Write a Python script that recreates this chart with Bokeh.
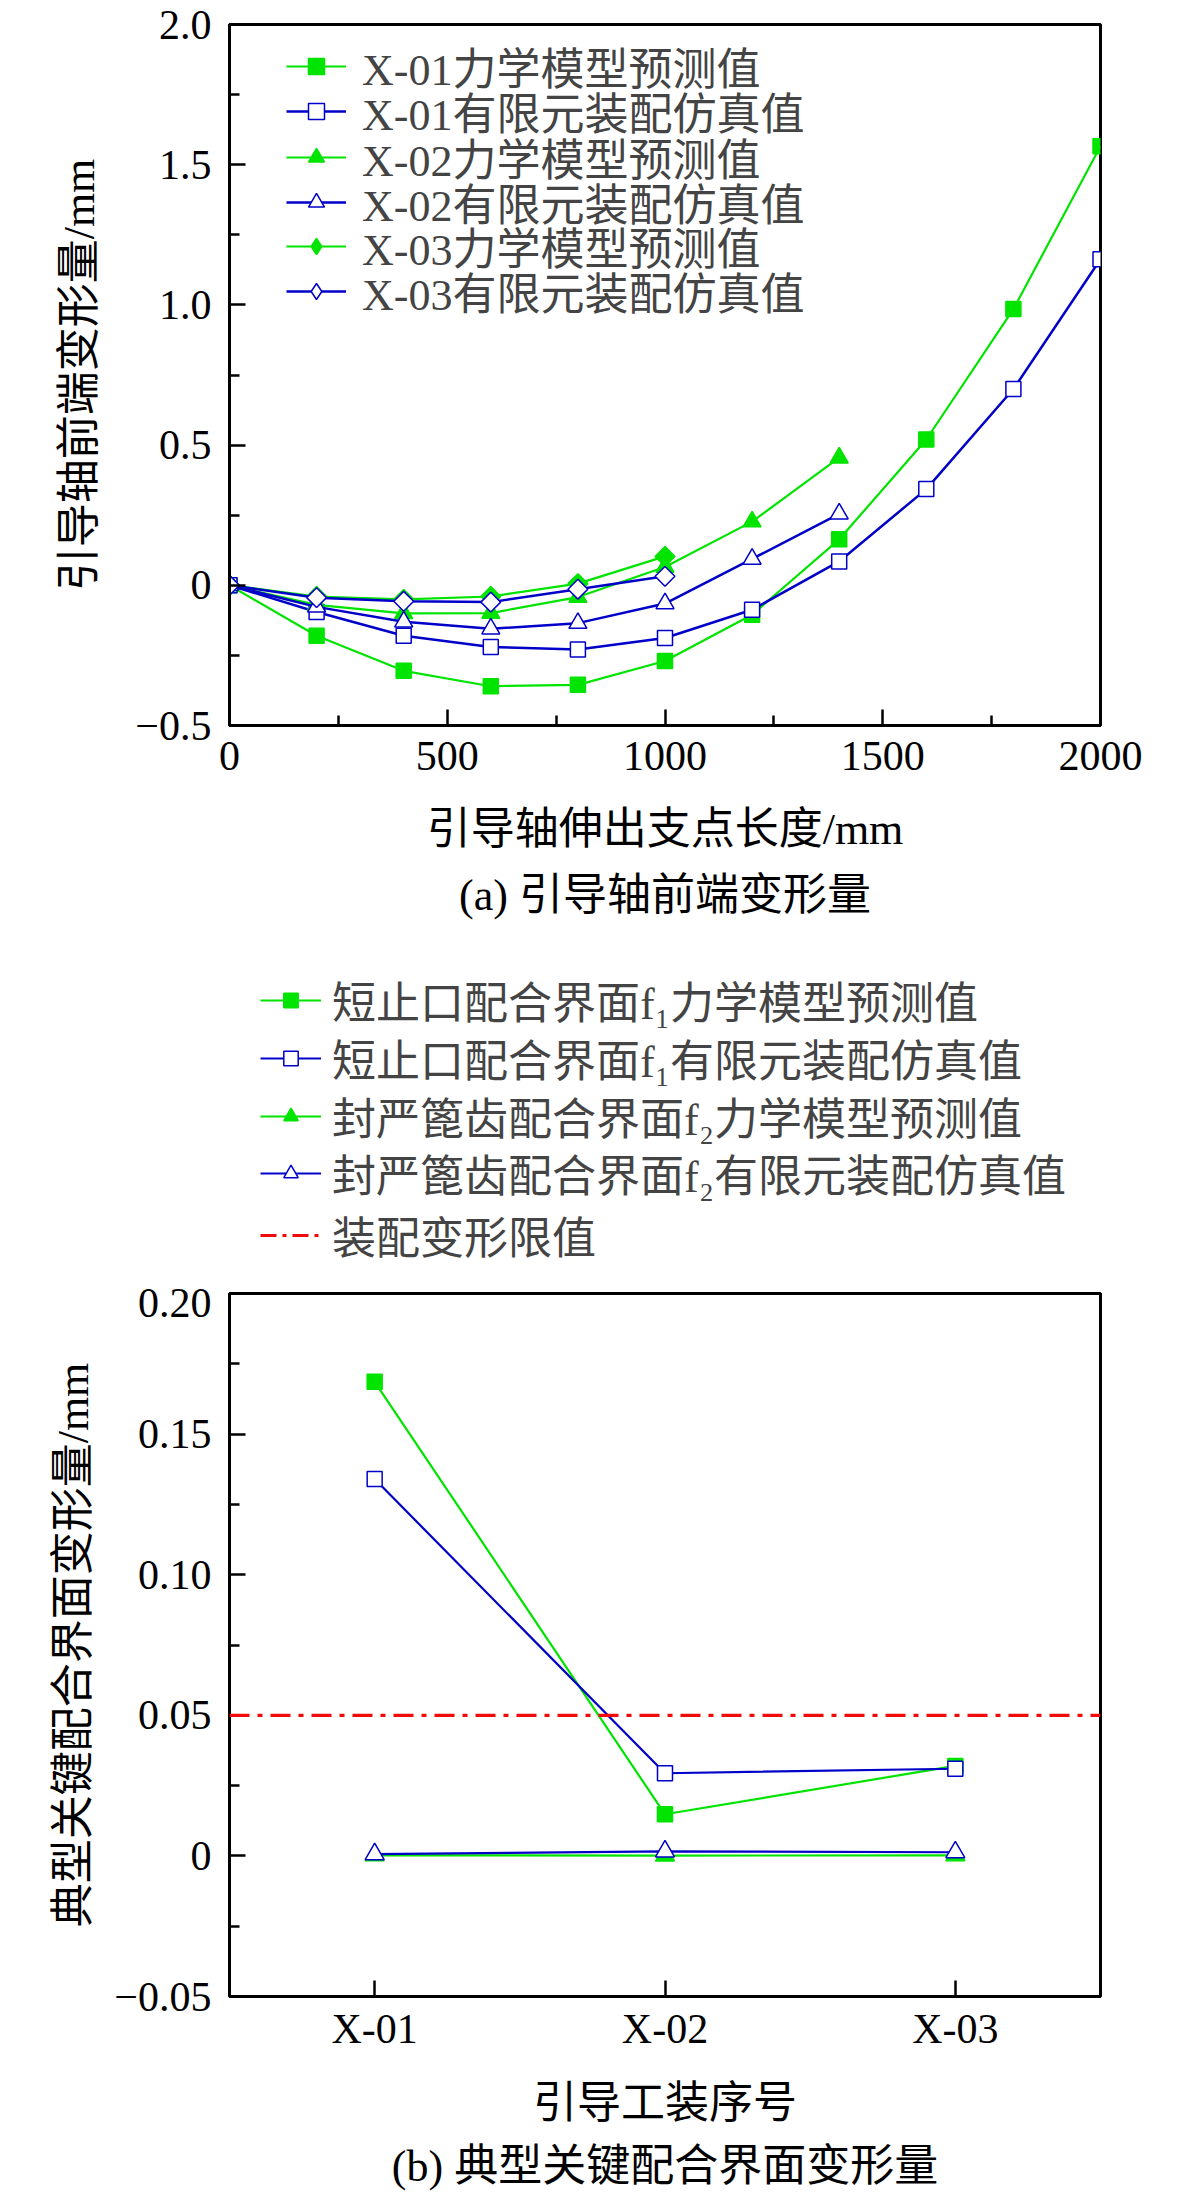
from bokeh.plotting import figure
from bokeh.models import (Legend, LegendItem, Span, Title, FixedTicker, Range1d,
                          FactorRange)
from bokeh.layouts import column
from bokeh.embed import file_html
from bokeh.resources import INLINE

FONT = "Liberation Serif, Noto Sans CJK SC, DejaVu Serif"
GREEN = "#00e400"
BLUE = "#0000c8"
RED = "#f00a0a"
DIAMOND_ANGLE = 0.7853981634  # rotated square = diamond

# ---------------- data: panel (a) ----------------
length_01 = [0, 200, 400, 600, 800, 1000, 1200, 1400, 1600, 1800, 2000]
x01_model = [0, -0.18, -0.305, -0.36, -0.355, -0.27, -0.105, 0.164, 0.52, 0.985, 1.566]
x01_fem = [0, -0.095, -0.18, -0.22, -0.229, -0.188, -0.087, 0.085, 0.343, 0.70, 1.163]
length_02 = [0, 200, 400, 600, 800, 1000, 1200, 1400]
x02_model = [0, -0.07, -0.10, -0.099, -0.042, 0.065, 0.227, 0.455]
x02_fem = [0, -0.077, -0.13, -0.155, -0.135, -0.065, 0.094, 0.255]
length_03 = [0, 200, 400, 600, 800, 1000]
x03_model = [0, -0.04, -0.05, -0.04, 0.006, 0.103]
x03_fem = [0, -0.044, -0.057, -0.06, -0.014, 0.032]

labels_a = ["X-01力学模型预测值", "X-01有限元装配仿真值",
            "X-02力学模型预测值", "X-02有限元装配仿真值",
            "X-03力学模型预测值", "X-03有限元装配仿真值"]

ya_ticks = [-0.5, 0.0, 0.5, 1.0, 1.5, 2.0]
ya_tick_labels = ["\u22120.5", "0", "0.5", "1.0", "1.5", "2.0"]
ya_minor = [-0.25, 0.25, 0.75, 1.25, 1.75]
xa_ticks = [0, 500, 1000, 1500, 2000]
xa_minor = [250, 750, 1250, 1750]

# ---------------- data: panel (b) ----------------
tools = ["X-01", "X-02", "X-03"]
f1_model = [0.1686, 0.0148, 0.032]
f1_fem = [0.134, 0.0294, 0.031]
f2_model = [0.0002, 0.0001, 0.0002]
f2_fem = [0.0006, 0.0016, 0.0013]
limit = 0.05

labels_b = ["短止口配合界面f\u2081力学模型预测值", "短止口配合界面f\u2081有限元装配仿真值",
            "封严篦齿配合界面f\u2082力学模型预测值", "封严篦齿配合界面f\u2082有限元装配仿真值",
            "装配变形限值"]

yb_ticks = [-0.05, 0.0, 0.05, 0.10, 0.15, 0.20]
yb_tick_labels = ["\u22120.05", "0", "0.05", "0.10", "0.15", "0.20"]
yb_minor = [-0.025, 0.025, 0.075, 0.125, 0.175]

# legend row placement (pixels from the frame top) and indent
legend_a_rows = [42, 87, 133, 178, 222, 267]
legend_a_indent = 57
legend_b_rows = [60, 118, 176, 233, 295]
legend_b_indent = 31
ROW_HALF = 31.5


def style_axis(ax, label_standoff, title_standoff):
    ax.axis_line_width = 3
    ax.axis_line_color = "black"
    ax.major_tick_line_width = 2.5
    ax.minor_tick_line_width = 2.5
    ax.major_tick_in = 16
    ax.major_tick_out = 0
    ax.minor_tick_in = 10
    ax.minor_tick_out = 0
    ax.major_label_text_font = FONT
    ax.major_label_text_font_size = "42px"
    ax.major_label_text_color = "black"
    ax.axis_label_text_font = FONT
    ax.axis_label_text_font_size = "44px"
    ax.axis_label_text_font_style = "normal"
    ax.axis_label_text_color = "black"
    ax.major_label_standoff = label_standoff
    ax.axis_label_standoff = title_standoff


def caption(text, standoff):
    return Title(text=text, align="center", text_font=FONT, text_font_size="44px",
                 text_font_style="normal", text_color="black", standoff=standoff)


def bare(p):
    p.xgrid.visible = False
    p.ygrid.visible = False


def add_row_legends(p, items, rows, indent, frame_h, glyph_w, glyph_h, standoff):
    for item, c in zip(items, rows):
        leg = Legend(items=[item], location=(indent, frame_h - c - ROW_HALF),
                     orientation="vertical", margin=0, padding=0, spacing=0,
                     glyph_width=glyph_w, glyph_height=glyph_h, label_height=40,
                     label_standoff=standoff, label_text_font=FONT,
                     label_text_font_size="44px", border_line_color=None,
                     background_fill_alpha=0)
        p.add_layout(leg)


# ---------------- figure (a) ----------------
FA_H = 940 - 24 - 215
pa = figure(width=1181, height=940, x_range=Range1d(0, 2000), y_range=Range1d(-0.5, 2.0),
            output_backend="svg", toolbar_location=None, title=None,
            min_border_left=229, min_border_right=81, min_border_top=24, min_border_bottom=215)
bare(pa)
pa.outline_line_color = "black"
pa.outline_line_width = 3

pa.xaxis.ticker = FixedTicker(ticks=xa_ticks, minor_ticks=xa_minor)
pa.yaxis.ticker = FixedTicker(ticks=ya_ticks, minor_ticks=ya_minor)
pa.yaxis.major_label_overrides = {t: l for t, l in zip(ya_ticks, ya_tick_labels)}
pa.xaxis.axis_label = "引导轴伸出支点长度/mm"
pa.yaxis.axis_label = "引导轴前端变形量/mm"
style_axis(pa.xaxis[0], 16, 32)
style_axis(pa.yaxis[0], 18, 28)

series_a = [
    (length_01, x01_model, "square", GREEN, GREEN, 15, 2.2, False),
    (length_01, x01_fem, "square", BLUE, "white", 15, 2.5, False),
    (length_02, x02_model, "triangle", GREEN, GREEN, 18, 2.2, False),
    (length_02, x02_fem, "triangle", BLUE, "white", 18, 2.5, False),
    (length_03, x03_model, "square", GREEN, GREEN, 14, 2.2, True),
    (length_03, x03_fem, "square", BLUE, "white", 14, 2.5, True),
]
items_a = []
for (xs, ys, mk, lc, fc, sz, lw, dia), lab in zip(series_a, labels_a):
    r1 = pa.line(xs, ys, line_color=lc, line_width=lw)
    r2 = pa.scatter(xs, ys, marker=mk, size=sz, angle=DIAMOND_ANGLE if dia else 0,
                    line_color=lc, fill_color=fc, line_width=1.5)
    rend = [r1, r2]
    if dia:
        # legend glyphs are drawn unrotated, so give the legend a diamond marker
        r3 = pa.scatter(xs, ys, marker="diamond", size=sz, line_color=lc,
                        fill_color=fc, line_width=1.5, visible=False)
        rend = [r1, r3]
    items_a.append(LegendItem(label=lab, renderers=rend))

add_row_legends(pa, items_a, legend_a_rows, legend_a_indent, FA_H, 60, 40, 16)
pa.add_layout(caption("(a) 引导轴前端变形量", 25), "below")

# ---------------- legend strip for (b) ----------------
PL_H = 348
pl = figure(width=1181, height=PL_H, x_range=FactorRange(factors=tools, range_padding=0),
            y_range=Range1d(-0.05, 0.20), output_backend="svg", toolbar_location=None,
            title=None, x_axis_location=None, y_axis_location=None,
            min_border_left=229, min_border_right=81, min_border_top=0, min_border_bottom=0)
bare(pl)
pl.outline_line_color = None

series_b = [
    (f1_model, "square", GREEN, GREEN, 15, 2.2),
    (f1_fem, "square", BLUE, "white", 15, 2.2),
    (f2_model, "triangle", GREEN, GREEN, 19, 2.2),
    (f2_fem, "triangle", BLUE, "white", 19, 2.2),
]
items_b = []
for (ys, mk, lc, fc, sz, lw), lab in zip(series_b, labels_b[:4]):
    r1 = pl.line(tools, ys, line_color=lc, line_width=lw, visible=False)
    r2 = pl.scatter(tools, ys, marker=mk, size=sz, line_color=lc, fill_color=fc,
                    line_width=1.5, visible=False)
    items_b.append(LegendItem(label=lab, renderers=[r1, r2]))
r_lim = pl.line(tools, [limit] * len(tools), line_color=RED, line_width=3.2,
                line_dash="16 6 4 6", visible=False)
items_b.append(LegendItem(label=labels_b[4], renderers=[r_lim]))

add_row_legends(pl, items_b, legend_b_rows, legend_b_indent, PL_H, 61, 36, 11)

# ---------------- figure (b) ----------------
pb = figure(width=1181, height=915, x_range=FactorRange(factors=tools, range_padding=0),
            y_range=Range1d(-0.05, 0.20), output_backend="svg", toolbar_location=None,
            title=None,
            min_border_left=229, min_border_right=81, min_border_top=5, min_border_bottom=207)
bare(pb)
pb.outline_line_color = "black"
pb.outline_line_width = 3

pb.yaxis.ticker = FixedTicker(ticks=yb_ticks, minor_ticks=yb_minor)
pb.yaxis.major_label_overrides = {t: l for t, l in zip(yb_ticks, yb_tick_labels)}
pb.xaxis.axis_label = "引导工装序号"
pb.yaxis.axis_label = "典型关键配合界面变形量/mm"
style_axis(pb.xaxis[0], 9, 24)
style_axis(pb.yaxis[0], 18, 13)

for ys, mk, lc, fc, sz, lw in series_b:
    pb.line(tools, ys, line_color=lc, line_width=lw)
    pb.scatter(tools, ys, marker=mk, size=sz, line_color=lc, fill_color=fc, line_width=1.5)

pb.add_layout(Span(location=limit, dimension="width", line_color=RED, line_width=3.2,
                   line_dash="20 8 5 8"))
pb.add_layout(caption("(b) 典型关键配合界面变形量", 19), "below")

layout = column(pa, pl, pb, spacing=0)
open("out.html", "w").write(file_html(layout, INLINE))
